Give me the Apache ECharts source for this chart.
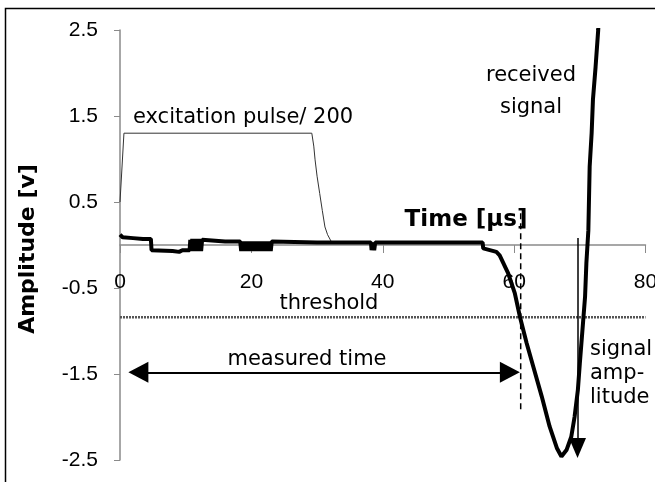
<!DOCTYPE html>
<html><head><meta charset="utf-8">
<script src="https://cdn.jsdelivr.net/npm/echarts@6.0.0/dist/echarts.min.js"></script>
<style>html,body{margin:0;padding:0;background:#fff}#c{width:655px;height:482px}</style>
</head><body><div id="c"></div>
<script>
// ---- data ----
const xTickValues = [0, 20, 40, 60, 80];
const yTickValues = [-2.5, -1.5, -0.5, 0.5, 1.5, 2.5];

const receivedSignal = [
  [0,0.12],[0.4,0.09],[2,0.08],[3.5,0.07],[4.7,0.07],[4.8,-0.06],[8,-0.07],[9,-0.08],[9.5,-0.06],[10.6,-0.06],
  [10.7,0.06],[10.85,-0.07],[11.0,0.07],[11.15,-0.07],[11.3,0.07],[11.45,-0.07],[11.6,0.07],[11.75,-0.07],
  [11.9,0.07],[12.05,-0.07],[12.2,0.07],[12.35,-0.07],[12.5,0.06],[12.7,0.04],
  [16,0.04],[18.3,0.04],[18.45,-0.07],[18.6,0.04],[18.75,-0.07],[18.9,0.04],[19.05,-0.07],[19.2,0.04],
  [19.35,-0.07],[19.5,0.04],[19.65,-0.07],[19.8,0.04],[19.95,-0.07],[20.1,0.04],[20.25,-0.07],[20.4,0.04],
  [20.55,-0.07],[20.7,0.04],[20.85,-0.07],[21.0,0.04],[21.15,-0.07],[21.3,0.04],[21.45,-0.07],[21.6,0.04],
  [21.75,-0.07],[21.9,0.04],[22.05,-0.07],[22.2,0.04],[22.35,-0.07],[22.5,0.04],[22.65,-0.07],[22.8,0.04],
  [22.95,-0.07],[23.1,0.04],[23.3,0.03],
  [30,0.03],[38.2,0.03],[38.3,-0.06],[38.45,0.03],[38.6,0.03],[38.7,-0.06],[38.85,0.03],[47,0.03],[55.2,0.03],
  [55.3,-0.04],[57.3,-0.08],[57.8,-0.12],[59.1,-0.33],[60.1,-0.56],[60.9,-0.84],[61.9,-1.14],[62.9,-1.41],
  [64.2,-1.76],[65.4,-2.11],[66.5,-2.36],[67.2,-2.46],[68.0,-2.38],[68.7,-2.23],[69.2,-2.0],[69.7,-1.69],
  [70.0,-1.38],[70.4,-0.99],[70.8,-0.60],[71.0,-0.21],[71.3,0.17],[71.5,0.91],[71.8,1.30],[72.0,1.69],
  [72.4,2.07],[72.8,2.5],[72.9,2.7]
];
const excitationPulse = [
  [0,0.5],[0.6,1.3],[29.2,1.3],[29.5,1.15],[29.7,0.99],[30.0,0.8],[30.4,0.6],[30.8,0.4],
  [31.2,0.21],[31.6,0.12],[32.3,0.02],[33,0.02]
];
const thresholdLine = [[0,-0.84],[80,-0.84]];
const thresholdMarker = [[61.0,0.37],[61.0,-1.94]];
const measuredTimeArrow = [[2.8,-1.48],[59.35,-1.48]];
const amplitudeArrow = [[69.65,0.08],[69.65,-2.36]];

const labels = {
  pulse: 'excitation pulse/ 200',
  received: 'received\nsignal',
  xName: 'Time [µs]',
  yName: 'Amplitude [v]',
  threshold: 'threshold',
  measured: 'measured time',
  amplitude: 'signal\namp-\nlitude'
};

// ---- chart ----
const chart = echarts.init(document.getElementById('c'), null, {renderer:'canvas'});
const annFont = '"DejaVu Sans", sans-serif';
const tickFont = '"Liberation Sans", Arial, sans-serif';
const gray = '#8a8a8a';
const gridTop = 30, gridBottom = 22;
const plotH = 482 - gridTop - gridBottom;
const yMin = yTickValues[0], yMax = yTickValues[yTickValues.length-1];
// distance from the bottom of the grid up to the y=0 line (via the axis extent)
const zeroOffset = plotH * (0 - yMin) / (yMax - yMin);

const xCommon = {type: 'value', min: xTickValues[0], max: xTickValues[xTickValues.length-1], interval: 20, splitLine:{show:false}};

chart.setOption({
  animation: false,
  backgroundColor: '#fff',
  grid: {left: 120, right: 9.5, top: gridTop, bottom: gridBottom, containLabel: false, outerBoundsMode: 'none'},
  xAxis: [
    Object.assign({}, xCommon, {
      axisLine: {show: true, onZero: true, lineStyle: {color: gray, width: 1.5}},
      axisTick: {show: true, length: 8, lineStyle: {color: gray}},
      axisLabel: {show: false}
    }),
    Object.assign({}, xCommon, {
      position: 'bottom', offset: -zeroOffset,
      axisLine: {show: false, onZero: false},
      axisTick: {show: false},
      axisLabel: {show: true, fontFamily: tickFont, fontSize: 21, color: '#000', margin: 27}
    })
  ],
  yAxis: {
    type: 'value', min: yMin, max: yMax, interval: 1,
    axisLine: {show: true, onZero: false, lineStyle: {color: gray, width: 1.5}},
    axisTick: {show: true, length: 6, lineStyle: {color: gray}},
    axisLabel: {fontFamily: tickFont, fontSize: 21, color: '#000', margin: 22,
      formatter: v => (Math.round(v*10)/10).toString()},
    splitLine: {show: false}
  },
  series: [
    {type:'line', data: excitationPulse, showSymbol:false, symbol:'none', clip:true,
      lineStyle:{color:'#333', width:1}, z:2},
    {type:'line', data: thresholdLine, showSymbol:false, symbol:'none',
      lineStyle:{color:'#555', width:2.5, type:[2,1]}, z:2},
    {type:'line', data: thresholdMarker, showSymbol:false, symbol:'none',
      lineStyle:{color:'#000', width:1.5, type:[6,4]}, z:3},
    {type:'line', data: receivedSignal, showSymbol:false, symbol:'none', clip:true,
      lineStyle:{color:'#000', width:4}, z:4},
    {type:'line', data: [], showSymbol:false,
      markLine: {
        silent: true, animation: false, label:{show:false},
        data: [
          [{coord: measuredTimeArrow[0], symbol:'triangle', symbolSize:[21,20]},
           {coord: measuredTimeArrow[1], symbol:'triangle', symbolSize:[21,20]}],
        ],
        lineStyle: {color:'#000', width:2, type:'solid'}
      }, z:5},
    {type:'line', data: [], showSymbol:false,
      markLine: {
        silent: true, animation: false, label:{show:false},
        data: [
          [{coord: amplitudeArrow[0], symbol:'none'},
           {coord: amplitudeArrow[1], symbol:'triangle', symbolSize:[17,20]}]
        ],
        lineStyle: {color:'#000', width:1.5, type:'solid'}
      }, z:5}
  ],
  graphic: [
    {type:'rect', shape:{x:5.5, y:8.5, width:800, height:600}, style:{fill:'none', stroke:'#000', lineWidth:1.5}, silent:true, z:0},
    {type:'text', x:133, y:118, style:{text: labels.pulse, font:'21px ' + annFont, fill:'#000', align:'left', verticalAlign:'middle'}},
    {type:'text', x:531, y:92, style:{text: labels.received, font:'21px ' + annFont, fill:'#000', align:'center', verticalAlign:'middle', lineHeight:32}},
    {type:'text', x:466, y:220, style:{text: labels.xName, font:'bold 23px ' + annFont, fill:'#000', align:'center', verticalAlign:'middle'}},
    {type:'text', x:28, y:249, rotation: Math.PI/2, style:{text: labels.yName, font:'bold 22px ' + annFont, fill:'#000', align:'center', verticalAlign:'middle'}},
    {type:'text', x:329, y:304, style:{text: labels.threshold, font:'21px ' + annFont, fill:'#000', align:'center', verticalAlign:'middle'}},
    {type:'text', x:307, y:360, style:{text: labels.measured, font:'21px ' + annFont, fill:'#000', align:'center', verticalAlign:'middle'}},
    {type:'text', x:590, y:374, style:{text: labels.amplitude, font:'21px ' + annFont, fill:'#000', align:'left', verticalAlign:'middle', lineHeight:24}}
  ]
});
</script>
</body></html>
